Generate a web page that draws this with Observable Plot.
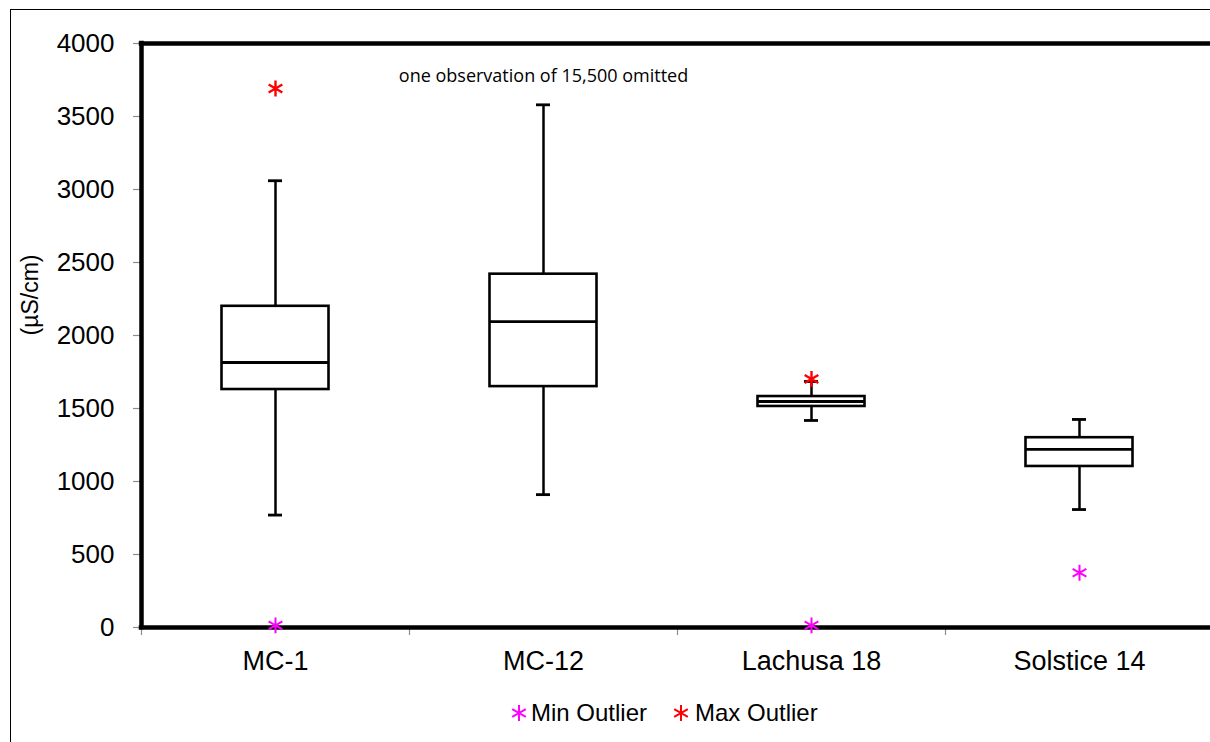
<!DOCTYPE html>
<html><head><meta charset="utf-8">
<script src="https://cdn.jsdelivr.net/npm/d3@7"></script>
<script src="https://cdn.jsdelivr.net/npm/@observablehq/plot@0.6"></script>
<style>
html,body{margin:0;padding:0;overflow:hidden;background:#fff;width:1210px;height:742px}
#wrap{position:relative;width:1210px;height:742px;overflow:hidden;font-family:"Liberation Sans",Arial,sans-serif;color:#000}
#border{position:absolute;left:10px;top:9px;width:1220px;height:760px;border-top:1.5px solid #000;border-left:1.5px solid #000}
#chart{position:absolute;left:0;top:0;width:1216px}
#chart svg{max-width:none !important;width:1216px !important;height:690px !important}
.lg{position:absolute;top:699px;font-size:24px;line-height:28px;white-space:nowrap}
</style></head>
<body>
<div id="wrap">
  <div id="border"></div>
  <div id="chart"></div>
  <div id="legend"></div>
</div>
<script>
// ---- data ----
const sites = ["MC-1", "MC-12", "Lachusa 18", "Solstice 14"];
const whiskerLow  = [770, 910, 1418, 808];
const q1          = [1630, 1650, 1514, 1103];
const median      = [1815, 2095, 1548, 1220];
const q3          = [2200, 2420, 1582, 1300];
const whiskerHigh = [3060, 3580, 1685, 1425];
const minOutlierSites  = ["MC-1", "Lachusa 18", "Solstice 14"];
const minOutlierValues = [15, 15, 375];
const maxOutlierSites  = ["MC-1", "Lachusa 18"];
const maxOutlierValues = [3692, 1702];
const yTicks = [0, 500, 1000, 1500, 2000, 2500, 3000, 3500, 4000];
const note = "one observation of 15,500 omitted";
const yLabel = "(µS/cm)";
const legendLabels = ["Min Outlier", "Max Outlier"];
const outlierColors = ["#ff00ff", "#ff0000"];

const boxes = sites.map((s, i) => ({site: s, lo: whiskerLow[i], q1: q1[i], med: median[i], q3: q3[i], hi: whiskerHigh[i]}));
const mins = minOutlierSites.map((s, i) => ({site: s, v: minOutlierValues[i]}));
const maxs = maxOutlierSites.map((s, i) => ({site: s, v: maxOutlierValues[i]}));

const band = 268;
const boxInset = (band - 107) / 2;
const capInset = (band - 14) / 2;
const yMin = yTicks[0], yMax = yTicks[yTicks.length - 1];

const chart = Plot.plot({
  width: 1216,
  height: 690,
  marginLeft: 141,
  marginRight: 3,
  marginTop: 43,
  marginBottom: 63,
  style: {fontFamily: "'Liberation Sans', Arial, sans-serif", color: "#000", background: "transparent", overflow: "visible"},
  x: {domain: sites, range: [141, 1213], padding: 0, axis: null},
  y: {domain: [yMin, yMax], axis: null},
  marks: [
    Plot.axisY(yTicks, {tickSize: 8, tickPadding: 19, fontSize: 26, stroke: "#8c8c8c", strokeWidth: 1.2, label: null, tickFormat: d => String(d)}),
    Plot.axisX(sites, {tickSize: 0, tickPadding: 23, fontSize: 27, label: null}),
    Plot.ruleX(sites, {x: d => d, y1: 0, y2: -55, dx: -band / 2, stroke: "#8c8c8c", strokeWidth: 1.2}),
    Plot.ruleX(boxes, {x: "site", y1: "lo", y2: "hi", stroke: "#000", strokeWidth: 2.5}),
    Plot.tickY(boxes, {x: "site", y: "lo", insetLeft: capInset, insetRight: capInset, stroke: "#000", strokeWidth: 2.8}),
    Plot.tickY(boxes, {x: "site", y: "hi", insetLeft: capInset, insetRight: capInset, stroke: "#000", strokeWidth: 2.8}),
    Plot.barY(boxes, {x: "site", y1: "q1", y2: "q3", insetLeft: boxInset, insetRight: boxInset, fill: "#fff", stroke: "#000", strokeWidth: 2.6}),
    Plot.tickY(boxes, {x: "site", y: "med", insetLeft: boxInset, insetRight: boxInset, stroke: "#000", strokeWidth: 2.8}),
    // plot-area border: top, bottom and left thick lines (right edge lies outside the picture)
    Plot.ruleY([yMin, yMax], {stroke: "#000", strokeWidth: 4.5, strokeLinecap: "square"}),
    Plot.ruleX([sites[0]], {x: d => d, y1: yMin, y2: yMax, dx: -band / 2, stroke: "#000", strokeWidth: 4.5, strokeLinecap: "square"}),
    Plot.dot(mins, {x: "site", y: "v", symbol: "asterisk", r: 7.5, stroke: outlierColors[0], strokeWidth: 2}),
    Plot.dot(maxs, {x: "site", y: "v", symbol: "asterisk", r: 7.5, stroke: outlierColors[1], strokeWidth: 2.4}),
    Plot.text([note], {x: () => sites[1], frameAnchor: "top", dy: 26, fontSize: 18, fontFamily: "'Open Sans', sans-serif", fill: "#000"}),
    Plot.text([yLabel], {frameAnchor: "left", dx: -111, rotate: -90, fontSize: 23, fill: "#000"})
  ]
});
document.getElementById("chart").appendChild(chart);

// legend
const legend = document.getElementById("legend");
const legendPos = [{sym: 519, txt: 531}, {sym: 681, txt: 695}];
legendLabels.forEach((lab, i) => {
  const sym = d3.create("svg").attr("width", 20).attr("height", 20)
    .style("position", "absolute").style("left", (legendPos[i].sym - 10) + "px").style("top", "703px");
  sym.append("path").attr("transform", "translate(10,10)")
    .attr("d", d3.symbol(d3.symbolAsterisk, Math.PI * 56)())
    .attr("fill", "none").attr("stroke", outlierColors[i]).attr("stroke-width", 2);
  legend.appendChild(sym.node());
  const t = document.createElement("div");
  t.className = "lg";
  t.style.left = legendPos[i].txt + "px";
  t.textContent = lab;
  legend.appendChild(t);
});
</script>
</body></html>
